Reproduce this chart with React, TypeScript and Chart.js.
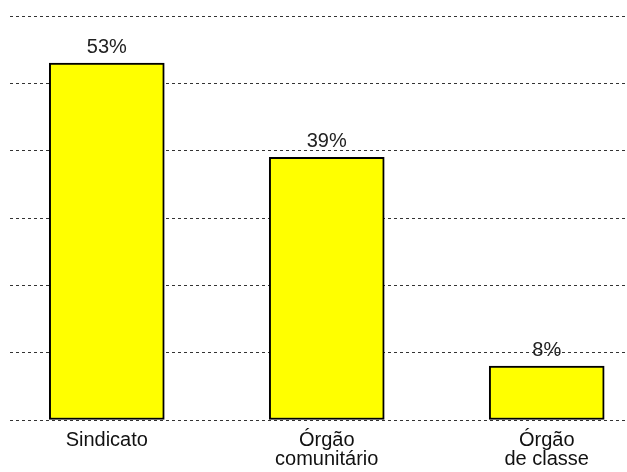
import React, { useEffect, useRef } from "react";
import { Chart, registerables } from "chart.js";

Chart.register(...registerables);

const categories: string[][] = [["Sindicato"], ["Órgão", "comunitário"], ["Órgão", "de classe"]];
const values: number[] = [53, 39, 8];
const valueLabels: string[] = ["53%", "39%", "8%"];
const yTicks: number[] = [0, 10, 20, 30, 40, 50, 60];

const FONT = "'Liberation Sans', Arial, sans-serif";

const valueLabelPlugin = {
  id: "valueLabels",
  afterDatasetsDraw(chart: any) {
    const ctx = chart.ctx;
    const meta = chart.getDatasetMeta(0);
    ctx.save();
    ctx.font = `20px ${FONT}`;
    ctx.fillStyle = "#222";
    ctx.textAlign = "center";
    ctx.textBaseline = "bottom";
    meta.data.forEach((el: any, i: number) => {
      ctx.fillText(valueLabels[i], el.x, el.y - 6);
    });
    ctx.restore();
  },
};

export default function App() {
  const ref = useRef<HTMLCanvasElement | null>(null);

  useEffect(() => {
    document.body.style.margin = "0";
    const canvas = ref.current;
    if (!canvas) return;
    const chart = new Chart(canvas, {
      type: "bar",
      data: {
        datasets: [
          {
            data: values.map((v, i) => ({ x: i, y: v })),
            backgroundColor: "#ffff00",
            borderColor: "#000000",
            borderWidth: 2,
            borderSkipped: false,
            barThickness: 115,
          },
        ],
      },
      options: {
        animation: false,
        responsive: true,
        maintainAspectRatio: false,
        layout: { padding: { left: 10, top: 16, right: 0, bottom: 0 } },
        plugins: {
          legend: { display: false },
          tooltip: { enabled: false },
        },
        scales: {
          x: {
            type: "linear",
            offset: false,
            bounds: "data",
            min: -0.44,
            max: 2.365,
            grid: { display: false, offset: false },
            border: { display: false },
            afterBuildTicks: (scale: any) => {
              scale.ticks = categories.map((_, i) => ({ value: i }));
            },
            afterFit: (scale: any) => {
              scale.height = 52;
            },
            ticks: {
              padding: 3,
              color: "#111",
              maxRotation: 0,
              autoSkip: false,
              font: { family: FONT, size: 20, lineHeight: 0.95 },
              callback: (v: any) => categories[Number(v)] ?? "",
            },
          },
          y: {
            min: 0,
            max: 60,
            afterBuildTicks: (scale: any) => {
              scale.ticks = yTicks.map((v) => ({ value: v }));
            },
            ticks: { display: false },
            grid: { color: "#333", lineWidth: 1, drawTicks: false },
            border: { display: false, dash: [3, 3] },
          },
        },
      },
      plugins: [valueLabelPlugin],
    });
    return () => chart.destroy();
  }, []);

  return (
    <div style={{ position: "relative", width: 627, height: 472 }}>
      <canvas ref={ref} />
    </div>
  );
}
